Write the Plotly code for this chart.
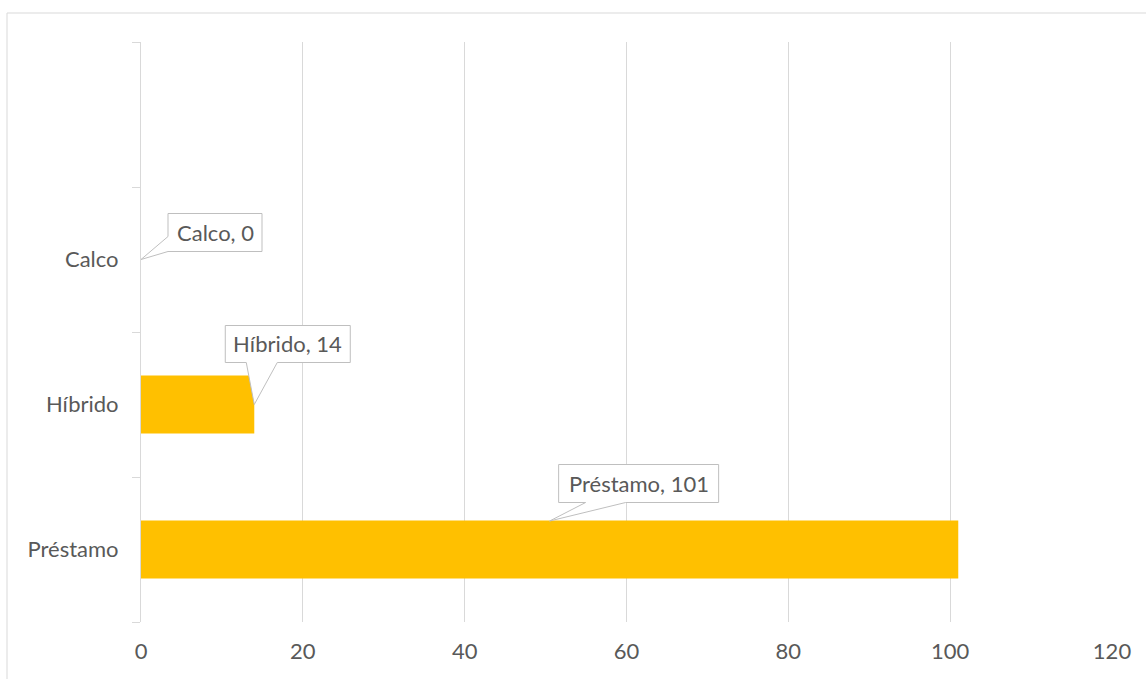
import plotly.graph_objects as go

categories = ["Préstamo", "Híbrido", "Calco"]
values = [101, 14, 0]
positions = [0, 1, 2]
x_ticks = [0, 20, 40, 60, 80, 100, 120]
boundaries = [-0.5, 0.5, 1.5, 2.5, 3.5]

TXT = "#595959"
GRID = "#d9d9d9"
FONT = "Lato"
FS = 22

fig = go.Figure()
fig.add_trace(go.Bar(
    x=values, y=positions, orientation="h", width=0.4,
    marker=dict(color="#FFC000", line=dict(width=0)),
    hoverinfo="skip",
))

# callout geometry (pixel offsets relative to anchor); style only
callouts = {
    "Calco": dict(ax="zero", path="M 0,0 L 27,23 L 27,46 L 121,46 L 121,8 L 27,8 Z", tx=74, ty=27),
    "Híbrido": dict(ax="end", path="M 0,0 L 23,42 L 96,42 L 96,79 L -29,79 L -29,42 L -8,42 Z", tx=33.5, ty=61),
    "Préstamo": dict(ax="mid", path="M 0,28.5 L 36,47 L 9,47 L 9,85 L 169,85 L 169,47 L 76,47 Z", tx=89, ty=66),
}

for cat, val, pos in zip(categories, values, positions):
    c = callouts[cat]
    xa = val / 2 if c["ax"] == "mid" else val
    fig.add_shape(
        type="path", xref="x", yref="y", xsizemode="pixel", ysizemode="pixel",
        xanchor=xa, yanchor=pos, path=c["path"],
        fillcolor="white", line=dict(color="#bfbfbf", width=1), layer="above",
    )
    fig.add_annotation(
        x=xa, y=pos, xref="x", yref="y", text=f"{cat}, {val}", showarrow=False,
        xshift=c["tx"], yshift=c["ty"], font=dict(family=FONT, size=FS, color=TXT),
        xanchor="center", yanchor="middle",
    )

# outer chart border
fig.add_shape(type="rect", xref="paper", yref="paper", x0=-0.138, x1=1.3, y0=-0.3, y1=1.05,
              line=dict(color=GRID, width=1), fillcolor="rgba(0,0,0,0)", layer="below")

fig.update_layout(
    width=1146, height=679,
    margin=dict(l=141, r=34, t=42, b=57),
    paper_bgcolor="white", plot_bgcolor="white",
    showlegend=False,
    font=dict(family=FONT, size=FS, color=TXT),
    xaxis=dict(
        range=[0, 120], tickvals=x_ticks, showgrid=True, gridcolor=GRID, gridwidth=1,
        zeroline=False, showline=False, ticks="", ticklabelstandoff=14,
        tickfont=dict(family=FONT, size=FS, color=TXT), fixedrange=True,
    ),
    yaxis=dict(
        range=[-0.5, 3.5], tickvals=positions, ticktext=categories,
        showgrid=False, zeroline=False, showline=True, linecolor=GRID, linewidth=1,
        ticks="outside", ticklen=8, tickcolor="rgba(0,0,0,0)", ticklabelstandoff=9,
        minor=dict(tickmode="array", tickvals=boundaries, ticks="outside", ticklen=8,
                   tickcolor=GRID, tickwidth=1, showgrid=False),
        tickfont=dict(family=FONT, size=FS, color=TXT), fixedrange=True,
    ),
)

fig.write_html("out.html", config={"displayModeBar": False},
               post_script="document.body.style.margin='0';")
